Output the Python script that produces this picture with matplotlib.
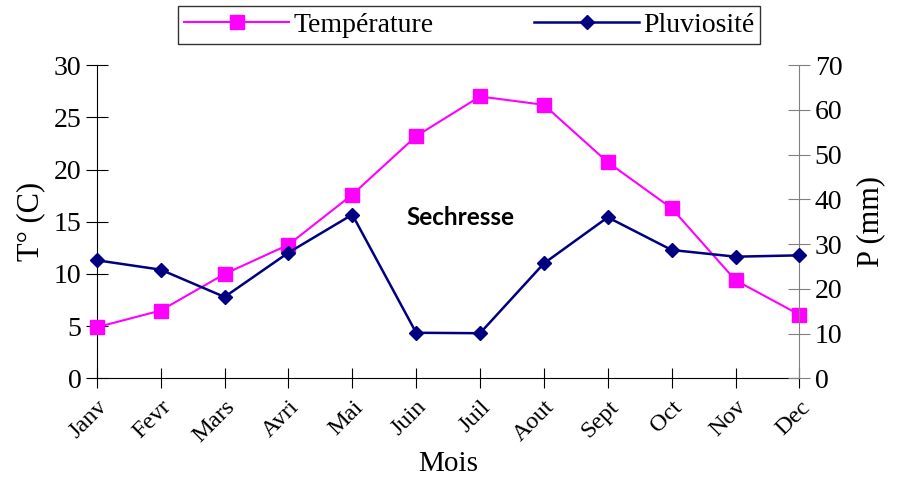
import matplotlib
matplotlib.use("Agg")
import matplotlib.pyplot as plt

plt.rcParams['font.family'] = ['Liberation Serif', 'DejaVu Serif']

months = ["Janv", "Fevr", "Mars", "Avri", "Mai", "Juin",
          "Juil", "Aout", "Sept", "Oct", "Nov", "Dec"]
temperature = [4.9, 6.5, 10.0, 12.8, 17.6, 23.2, 27.0, 26.2, 20.7, 16.3, 9.4, 6.1]
pluviosite = [26.4, 24.3, 18.2, 28.1, 36.6, 10.2, 10.1, 25.7, 36.0, 28.7, 27.2, 27.5]

fig = plt.figure(figsize=(9.22, 4.79), dpi=100)
ax = fig.add_axes([0.105, 0.21, 0.762, 0.654])
ax2 = ax.twinx()

x = list(range(len(months)))
l1, = ax.plot(x, temperature, '-s', color='#FF00FF', markersize=10,
              linewidth=1.5, label='Température', clip_on=False, zorder=3)
l2, = ax2.plot(x, pluviosite, '-D', color='#000080', markersize=7.5,
               linewidth=1.8, label='Pluviosité', clip_on=False, zorder=3)

ax.set_xlim(0, 11)
ax.set_ylim(0, 30)
ax2.set_ylim(0, 70)
ax.set_yticks(range(0, 31, 5))
ax2.set_yticks(range(0, 71, 10))
ax.set_xticks(x)
ax.set_xticklabels(months, rotation=45, ha='right', rotation_mode='anchor')

for a in (ax, ax2):
    a.spines['top'].set_visible(False)
ax.spines['right'].set_visible(False)
ax2.spines['left'].set_visible(False)
ax2.spines['bottom'].set_visible(False)
ax2.spines['right'].set_color('#808080')

ax.tick_params(axis='y', direction='inout', length=16, labelsize=20, pad=3)
ax.tick_params(axis='x', direction='inout', length=14, labelsize=17.5, pad=6)
ax2.tick_params(axis='y', direction='inout', length=16, labelsize=20,
                color='#808080', pad=3)

ax.set_ylabel("T° (C)", fontsize=22, labelpad=6)
ax2.set_ylabel("P (mm)", fontsize=22, labelpad=10)
ax.set_xlabel("Mois", fontsize=21, labelpad=3)

ax.text(5.7, 15.4, "Sechresse", fontsize=17.5, fontweight='bold',
        family=['Lato', 'DejaVu Sans'], ha='center', va='center')

leg = fig.legend([l1, l2], ['Température', 'Pluviosité'],
                 loc='upper center', bbox_to_anchor=(0.509, 0.987), ncol=2,
                 fontsize=20, frameon=True, fancybox=False, edgecolor='black',
                 handlelength=3.8, columnspacing=3.6, borderpad=0.2,
                 handletextpad=0.15, borderaxespad=0, handleheight=0.8)
leg.get_frame().set_linewidth(1.0)

fig.savefig("out.png", dpi=100)
